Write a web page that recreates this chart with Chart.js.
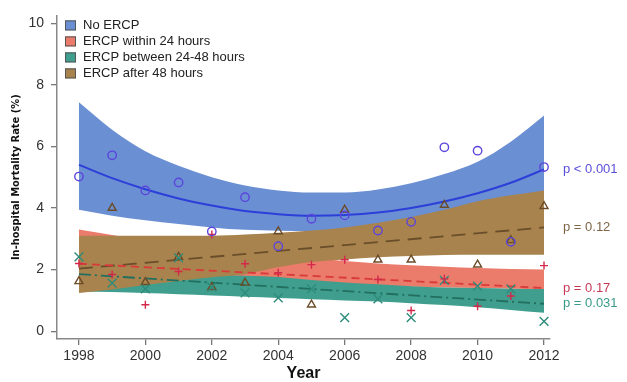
<!DOCTYPE html>
<html>
<head>
<meta charset="utf-8">
<script src="https://cdn.jsdelivr.net/npm/chart.js@4.4.1/dist/chart.umd.min.js"></script>
<style>
    body { margin: 0; background: #ffffff; }
    #wrap { width: 627px; height: 382px; }
</style>
</head>
<body>
<div id="wrap"><canvas id="mortality" width="627" height="382"></canvas></div>
<script>
// Observed rates per year (%)
const years = [1998, 1999, 2000, 2001, 2002, 2003, 2004, 2005, 2006, 2007, 2008, 2009, 2010, 2011, 2012];
const noErcp = [5.02, 5.71, 4.57, 4.83, 3.24, 4.35, 2.76, 3.65, 3.76, 3.27, 3.55, 5.97, 5.86, 2.9, 5.33];
const within24 = [2.2, 1.84, 0.86, 1.94, 3.14, 2.19, 1.9, 2.16, 2.32, 1.68, 0.67, 1.7, 0.81, 1.14, 2.13];
const between24to48 = [2.41, 1.56, 1.37, 2.38, 1.43, 1.24, 1.08, 1.37, 0.44, 1.05, 0.44, 1.65, 1.46, 1.37, 0.32];
const after48 = [1.62, 4.0, 1.59, 2.41, 1.43, 1.57, 3.24, 0.86, 3.94, 2.32, 2.32, 4.1, 2.16, 2.95, 4.06];

// Fitted trend for No ERCP (quadratic) and its confidence band
const noErcpFit = [5.4, 4.97, 4.61, 4.31, 4.08, 3.9, 3.8, 3.75, 3.77, 3.85, 4.0, 4.21, 4.48, 4.82, 5.25];
const noErcpUpper = [7.43, 6.54, 5.84, 5.37, 5.0, 4.73, 4.57, 4.5, 4.5, 4.6, 4.8, 5.1, 5.5, 6.15, 7.0];
const noErcpLower = [3.94, 3.75, 3.6, 3.48, 3.37, 3.29, 3.26, 3.25, 3.27, 3.3, 3.38, 3.47, 3.55, 3.57, 3.55];

// Confidence bands for the other groups
const within24Upper = [3.3, 3.12, 2.95, 2.8, 2.68, 2.57, 2.47, 2.38, 2.28, 2.2, 2.14, 2.09, 2.05, 2.02, 2.0];
const within24Lower = [1.32, 1.38, 1.42, 1.45, 1.48, 1.5, 1.52, 1.52, 1.5, 1.47, 1.44, 1.42, 1.4, 1.38, 1.37];
const between24to48Upper = [2.5, 2.3, 2.1, 1.95, 1.85, 1.8, 1.76, 1.66, 1.58, 1.52, 1.46, 1.42, 1.4, 1.38, 1.37];
const between24to48Lower = [1.28, 1.27, 1.24, 1.2, 1.16, 1.12, 1.08, 1.04, 1.0, 0.96, 0.91, 0.85, 0.78, 0.69, 0.6];
const after48Upper = [3.1, 3.1, 3.1, 3.1, 3.1, 3.14, 3.2, 3.27, 3.37, 3.52, 3.71, 3.94, 4.22, 4.41, 4.57];
const after48Lower = [1.24, 1.35, 1.5, 1.63, 1.75, 1.85, 2.08, 2.25, 2.33, 2.4, 2.44, 2.47, 2.48, 2.48, 2.48];

// Linear trends (start and end year)
const fitYears = [1998, 2012];
const within24Fit = [2.19, 1.4];
const between24to48Fit = [1.85, 0.89];
const after48Fit = [2.03, 3.37];

// Axis ticks and labels
const yTicks = [0, 2, 4, 6, 8, 10];
const xTicks = [1998, 2000, 2002, 2004, 2006, 2008, 2010, 2012];
const legendLabels = ["No ERCP", "ERCP within 24 hours", "ERCP between 24-48 hours", "ERCP after 48 hours"];
const pLabels = ["p < 0.001", "p = 0.12", "p = 0.17", "p = 0.031"];

const bandColors = ["#6a8fd3", "#eb7b6b", "#3f9e8d", "#a8834d"];
const pColors = ["#5a4fd8", "#7d6545", "#c63a58", "#3a9a88"];

const toPoints = (xs, ys) => xs.map((x, i) => ({ x: x, y: ys[i] }));

// Invisible lower edge of a band
function lowerEdge(values) {
    return {
        data: toPoints(years, values),
        borderWidth: 0,
        borderColor: "transparent",
        pointRadius: 0,
        fill: false,
        cubicInterpolationMode: "monotone",
        order: 100,
    };
}

// Upper edge, filled down to the dataset at index target
function upperEdge(values, target, color, order) {
    return {
        data: toPoints(years, values),
        borderWidth: 0,
        borderColor: "transparent",
        backgroundColor: color,
        pointRadius: 0,
        fill: { target: target },
        cubicInterpolationMode: "monotone",
        order: order,
    };
}

function fitLine(xs, values, color, dash, width) {
    return {
        data: toPoints(xs, values),
        borderColor: color,
        borderWidth: width,
        borderDash: dash,
        pointRadius: 0,
        fill: false,
        cubicInterpolationMode: "monotone",
        order: 5,
    };
}

function markers(values, style, color, radius) {
    return {
        data: toPoints(years, values),
        showLine: false,
        pointStyle: style,
        pointRadius: radius,
        pointBorderWidth: 1.4,
        pointBorderColor: color,
        pointBackgroundColor: "transparent",
        fill: false,
        order: 1,
    };
}

const datasets = [
    lowerEdge(noErcpLower),                                   // 0
    upperEdge(noErcpUpper, 0, bandColors[0], 40),             // 1
    lowerEdge(within24Lower),                                 // 2
    upperEdge(within24Upper, 2, bandColors[1], 30),           // 3
    lowerEdge(between24to48Lower),                            // 4
    upperEdge(between24to48Upper, 4, bandColors[2], 20),      // 5
    lowerEdge(after48Lower),                                  // 6
    upperEdge(after48Upper, 6, bandColors[3], 10),            // 7
    fitLine(years, noErcpFit, "#2c3fd8", [], 2),
    fitLine(fitYears, within24Fit, "#d93a3a", [8, 5], 1.8),
    fitLine(fitYears, between24to48Fit, "#226f5f", [12, 4, 2, 4], 1.8),
    fitLine(fitYears, after48Fit, "#6a4d2a", [14, 8], 1.8),
    markers(noErcp, "circle", "#5b45dc", 4.2),
    markers(within24, "cross", "#d3284a", 4),
    markers(between24to48, "crossRot", "#2e8b7a", 6.2),
    markers(after48, "triangle", "#6b4c28", 4.6),
];

// Legend in the top-left corner and p-values at the end of each trend
const annotations = {
    id: "annotations",
    afterDraw(chart) {
        const { ctx, chartArea, scales } = chart;
        ctx.save();
        ctx.font = "13px 'Liberation Sans', Arial, sans-serif";
        ctx.textBaseline = "middle";
        ctx.textAlign = "left";
        legendLabels.forEach((label, i) => {
            const y = chartArea.top + 10 + i * 16;
            ctx.fillStyle = bandColors[i];
            ctx.fillRect(chartArea.left + 8, y - 5, 11, 10);
            ctx.strokeStyle = "#555555";
            ctx.lineWidth = 1;
            ctx.strokeRect(chartArea.left + 8.5, y - 4.5, 10, 9);
            ctx.fillStyle = "#222222";
            ctx.fillText(label, chartArea.left + 26, y);
        });

        // end value of each trend line, same order as pLabels
        const ends = [noErcpFit[noErcpFit.length - 1], after48Fit[1], within24Fit[1], between24to48Fit[1]];
        ends.forEach((value, i) => {
            ctx.fillStyle = pColors[i];
            ctx.fillText(pLabels[i], chartArea.right + 13, scales.y.getPixelForValue(value));
        });
        ctx.restore();
    },
};

const ctx = document.getElementById("mortality").getContext("2d");
new Chart(ctx, {
    type: "line",
    data: { datasets: datasets },
    options: {
        responsive: false,
        animation: false,
        layout: { padding: { top: 8, right: 77, left: 0, bottom: 0 } },
        plugins: {
            legend: { display: false },
            tooltip: { enabled: false },
        },
        scales: {
            x: {
                type: "linear",
                min: 1997.34,
                max: 2012.18,
                afterBuildTicks: (scale) => { scale.ticks = xTicks.map((v) => ({ value: v })); },
                afterFit: (scale) => { scale.height = 43; },
                ticks: {
                    color: "#333333",
                    padding: 3,
                    font: { size: 14, family: "'Liberation Sans', Arial, sans-serif" },
                    callback: (value) => String(value),
                },
                grid: { drawOnChartArea: false, tickLength: 6, color: "#777777", lineWidth: 1.3 },
                border: { color: "#888888", width: 1.5 },
                title: {
                    display: true,
                    text: "Year",
                    color: "#111111",
                    padding: 0,
                    font: { size: 16, weight: "bold", lineHeight: 1, family: "'Liberation Sans', Arial, sans-serif" },
                },
            },
            y: {
                min: -0.254,
                max: 10.254,
                afterBuildTicks: (scale) => { scale.ticks = yTicks.map((v) => ({ value: v })); },
                afterFit: (scale) => { scale.width = 57; },
                ticks: {
                    color: "#333333",
                    padding: 7,
                    font: { size: 14, family: "'Liberation Sans', Arial, sans-serif" },
                },
                grid: { drawOnChartArea: false, tickLength: 6, color: "#777777", lineWidth: 1.3 },
                border: { color: "#888888", width: 1.5 },
                title: {
                    display: true,
                    text: "In-hospital Mortality Rate (%)",
                    color: "#111111",
                    padding: { top: 10, bottom: 0 },
                    font: { size: 11, weight: "bold", family: "'Liberation Sans Narrow', 'DejaVu Sans Condensed', sans-serif" },
                },
            },
        },
    },
    plugins: [annotations],
});
</script>
</body>
</html>
